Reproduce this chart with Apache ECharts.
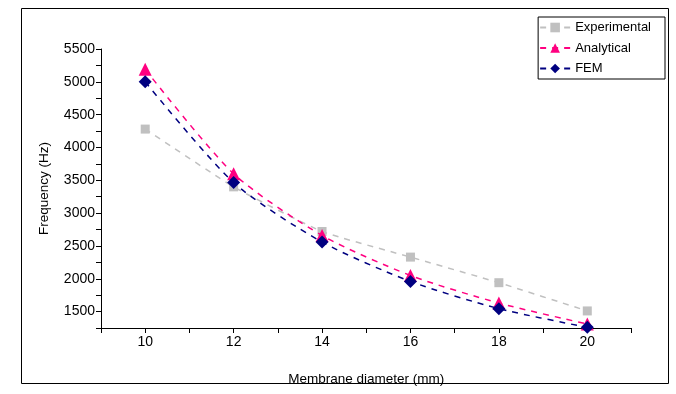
<!DOCTYPE html>
<html><head><meta charset="utf-8">
<script src="https://cdn.jsdelivr.net/npm/echarts@6/dist/echarts.min.js"></script>
<style>html,body{margin:0;padding:0;background:#fff}#c{width:676px;height:394px}</style>
</head><body><div id="c"></div>
<script>
const diameters = [10, 12, 14, 16, 18, 20];
const experimental = [4280, 3400, 2720, 2330, 1940, 1510];
const analytical = [5190, 3600, 2660, 2050, 1630, 1310];
const fem = [5000, 3465, 2560, 1960, 1545, 1260];
const seriesNames = ['Experimental', 'Analytical', 'FEM'];

const font = 'Arial, "Liberation Sans", sans-serif';
const chart = echarts.init(document.getElementById('c'), null, {renderer: 'canvas'});
function pts(v){ return diameters.map((d,i)=>[d, v[i]]); }
chart.setOption({
  animation: false,
  backgroundColor: '#fff',
  textStyle: {fontFamily: font},
  graphic: [{type:'rect', shape:{x:21.5, y:8.5, width:647, height:375}, style:{fill:'none', stroke:'#000', lineWidth:1}, silent:true}],
  grid: {left: 101, right: 44.5, top: 49, bottom: 66},
  legend: {
    orient: 'vertical', right: 11, top: 17,
    itemWidth: 30, itemHeight: 12, itemGap: 7.5,
    padding: [4, 14, 4, 1],
    borderColor: '#000', borderWidth: 1,
    textStyle: {fontFamily: font, fontSize: 13, color: '#000'},
    data: seriesNames
  },
  xAxis: {
    type: 'value', min: 9, max: 21, interval: 1,
    name: 'Membrane diameter (mm)', nameLocation: 'middle', nameGap: 44,
    nameTextStyle: {fontFamily: font, fontSize: 13.5, color: '#000'},
    axisLine: {lineStyle: {color: '#000', width: 1}},
    axisTick: {inside: false, length: 5, lineStyle: {color: '#000'}},
    axisLabel: {fontFamily: font, fontSize: 14, color: '#000', margin: 7,
      formatter: v => (v % 2 === 0 ? String(v) : '')},
    splitLine: {show: false}
  },
  yAxis: {
    type: 'value', min: 1250, max: 5500, interval: 250,
    name: 'Frequency (Hz)', nameLocation: 'middle', nameGap: 50, nameRotate: 90,
    nameTextStyle: {fontFamily: font, fontSize: 13.5, color: '#000'},
    axisLine: {show: true, lineStyle: {color: '#000', width: 1}},
    axisTick: {show: true, length: 5, lineStyle: {color: '#000'}},
    axisLabel: {fontFamily: font, fontSize: 14, color: '#000', margin: 6,
      formatter: v => (v % 500 === 0 ? String(v) : '')},
    splitLine: {show: false}
  },
  series: [
    {name: 'Experimental', type: 'line', data: pts(experimental), smooth: 0.15,
     symbol: 'rect', symbolSize: 9, color: '#C0C0C0',
     itemStyle: {color: '#C0C0C0'}, lineStyle: {color: '#C0C0C0', width: 1.5, type: [6, 6]}, z: 2},
    {name: 'Analytical', type: 'line', data: pts(analytical), smooth: 0.25,
     symbol: 'triangle', symbolSize: 13, color: '#FF0080',
     itemStyle: {color: '#FF0080'}, lineStyle: {color: '#FF0080', width: 1.5, type: [6, 6]}, z: 3},
    {name: 'FEM', type: 'line', data: pts(fem), smooth: 0.25,
     symbol: 'diamond', symbolSize: 13, color: '#000080',
     itemStyle: {color: '#000080'}, lineStyle: {color: '#000080', width: 1.5, type: [6, 6]}, z: 4}
  ]
});
</script></body></html>
